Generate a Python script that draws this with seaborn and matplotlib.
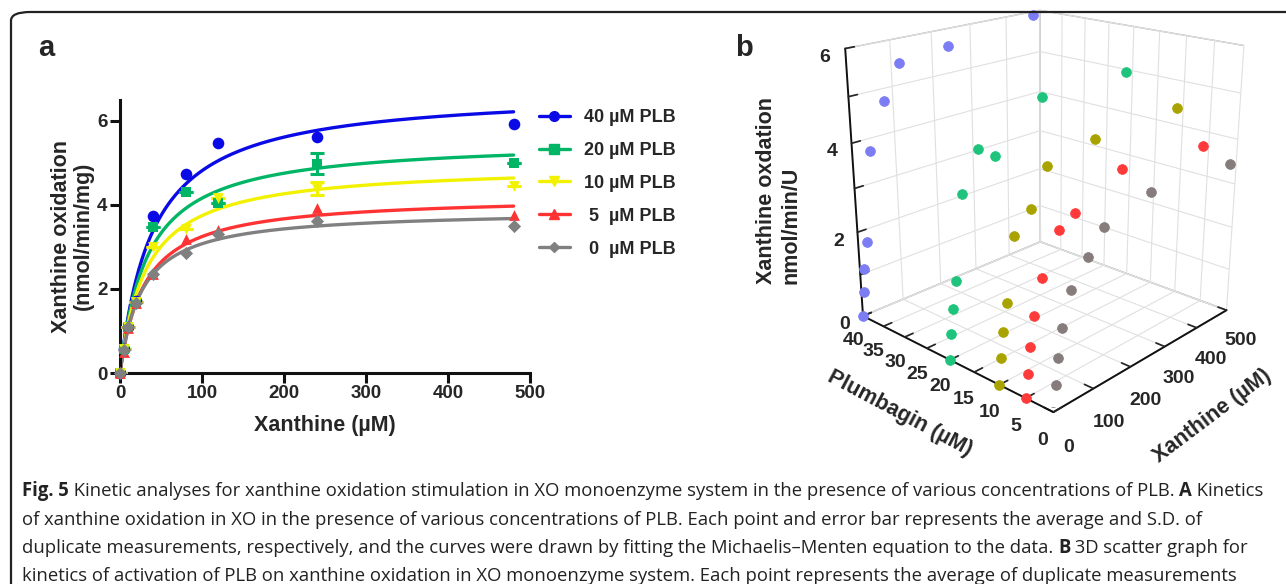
import numpy as np
import matplotlib
matplotlib.use("Agg")
import matplotlib.pyplot as plt
import seaborn as sns
import pandas as pd
from matplotlib.lines import Line2D
from matplotlib.patches import FancyBboxPatch

# ---------------- data ----------------
xanthine = [0, 5, 10, 20, 40, 80, 120, 240, 480]
plb_levels = [40, 20, 10, 5, 0]
v_plb40 = [0, 0.56, 1.10, 1.70, 3.73, 4.72, 5.46, 5.62, 5.92]
v_plb20 = [0, 0.56, 1.10, 1.68, 3.48, 4.30, 4.03, 4.97, 5.00]
v_plb10 = [0, 0.56, 1.10, 1.68, 3.00, 3.42, 4.15, 4.38, 4.45]
v_plb5 = [0, 0.50, 1.06, 1.66, 2.35, 3.18, 3.40, 3.92, 3.75]
v_plb0 = [0, 0.55, 1.09, 1.66, 2.35, 2.86, 3.31, 3.62, 3.50]
sd_plb20 = [0, 0, 0, 0, 0, 0, 0, 0.25, 0]
sd_plb10 = [0, 0, 0, 0, 0, 0, 0, 0.15, 0]
legend_labels = ["40 µM PLB", "20 µM PLB", "10 µM PLB", " 5  µM PLB", " 0  µM PLB"]
x_ticks = [0, 100, 200, 300, 400, 500]
y_ticks = [0, 2, 4, 6]
plb_ticks = [0, 5, 10, 15, 20, 25, 30, 35, 40]
z_ticks = [0, 1, 2, 3, 4, 5, 6]
z_ticklabels = ["0", "", "2", "", "4", "", "6"]

series = [v_plb40, v_plb20, v_plb10, v_plb5, v_plb0]
colors_a = ["#0a0ae6", "#00b566", "#f2f200", "#ff3333", "#808080"]
colors_b = ["#7c7cf4", "#1ec47c", "#a9a300", "#ff3a3a", "#867c7c"]
markers = ["o", "s", "v", "^", "D"]
msizes = [70, 60, 60, 60, 45]

caption_lines = [
    [("Fig. 5", "bold"), (" Kinetic analyses for xanthine oxidation stimulation in XO monoenzyme system in the presence of various concentrations of PLB. ", "normal"), ("A", "bold"), (" Kinetics", "normal")],
    [("of xanthine oxidation in XO in the presence of various concentrations of PLB. Each point and error bar represents the average and S.D. of", "normal")],
    [("duplicate measurements, respectively, and the curves were drawn by fitting the Michaelis–Menten equation to the data. ", "normal"), ("B", "bold"), (" 3D scatter graph for", "normal")],
    [("kinetics of activation of PLB on xanthine oxidation in XO monoenzyme system. Each point represents the average of duplicate measurements", "normal")],
]


def mm_fit(s, v):
    s = np.asarray(s, float)
    v = np.asarray(v, float)
    best = (np.inf, 1.0, 1.0)
    for km in np.linspace(1, 200, 4000):
        f = s / (km + s)
        vmax = (f @ v) / (f @ f)
        r = ((v - vmax * f) ** 2).sum()
        if r < best[0]:
            best = (r, vmax, km)
    return best[1], best[2]


# ---------------- figure ----------------
sns.set_theme(style="ticks")
plt.rcParams['font.family'] = ['Liberation Sans', 'DejaVu Sans']
W, H = 1286, 584
fig = plt.figure(figsize=(W / 100, H / 100), dpi=100)
fig.patch.set_facecolor("white")

# rounded frame
frame = FancyBboxPatch((11 / W, -0.2), 1.2, 1 - 12 / H + 0.2,
                       boxstyle="round,pad=0,rounding_size=0.015",
                       transform=fig.transFigure, fill=False,
                       edgecolor="#222222", linewidth=1.6)
fig.add_artist(frame)

# ---------------- panel a ----------------
ax = fig.add_axes([120 / W, 1 - 373 / H, 410 / W, (373 - 99.5) / H])
rows = []
for lvl, vals in zip(plb_levels, series):
    for s, v in zip(xanthine, vals):
        rows.append({"xan": s, "rate": v, "plb": f"{lvl}"})
df = pd.DataFrame(rows)
order = [f"{l}" for l in plb_levels]

curve_rows = []
s_grid = np.linspace(0, 480, 400)
for lvl, vals in zip(plb_levels, series):
    vmax, km = mm_fit(xanthine, vals)
    for s in s_grid:
        curve_rows.append({"xan": s, "rate": vmax * s / (km + s), "plb": f"{lvl}"})
cdf = pd.DataFrame(curve_rows)

pal_a = dict(zip(order, colors_a))
sns.lineplot(data=cdf, x="xan", y="rate", hue="plb", hue_order=order,
             palette=pal_a, linewidth=2.4, legend=False, ax=ax, clip_on=False)
for lvl, vals, m, ms, c in zip(order, series, markers, msizes, colors_a):
    sub = df[df.plb == lvl]
    sns.scatterplot(data=sub, x="xan", y="rate", color=c, marker=m, s=ms,
                    edgecolor=c, linewidth=0, legend=False, ax=ax, clip_on=False, zorder=5)
for vals, sd, c in [(v_plb20, sd_plb20, colors_a[1]), (v_plb10, sd_plb10, colors_a[2])]:
    ax.errorbar(xanthine, vals, yerr=sd, fmt="none", ecolor=c, elinewidth=2.2,
                capsize=5, capthick=2.2, zorder=4)

ax.set_xlim(0, 500)
ax.set_ylim(0, 6.5)
ax.set_xticks(x_ticks)
ax.set_yticks(y_ticks)
for sp in ["top", "right"]:
    ax.spines[sp].set_visible(False)
for sp in ["left", "bottom"]:
    ax.spines[sp].set_linewidth(2.2)
    ax.spines[sp].set_color("#111111")
ax.tick_params(width=2.2, length=7, labelsize=13.5, color="#111111", pad=2)
for t in ax.get_xticklabels() + ax.get_yticklabels():
    t.set_fontweight("bold")
ax.set_xlabel("Xanthine (µM)", fontsize=15.5, fontweight="bold", labelpad=9)
ax.set_ylabel("Xanthine oxidation\n(nmol/min/mg)", fontsize=15.5, fontweight="bold", labelpad=2,
              linespacing=1.1)

handles = [Line2D([0], [0], color=c, marker=m, markersize=7 if m != "D" else 5.5,
                  linewidth=2.4) for c, m in zip(colors_a, markers)]
fig.legend(handles, legend_labels, loc="upper left", bbox_to_anchor=(539 / W, 1 - 109 / H),
           frameon=False, prop={"weight": "bold", "size": 13}, handlelength=1.7,
           labelspacing=0.88, handletextpad=0.8, borderpad=0, borderaxespad=0)

fig.text(38 / W, 1 - 48 / H, "a", fontsize=21, fontweight="bold", va="center", ha="left")
fig.text(735 / W, 1 - 48 / H, "b", fontsize=21, fontweight="bold", va="center", ha="left")

# ---------------- panel b (3D) ----------------
ax3 = fig.add_axes([805 / W, 1 - 407 / H, 470 / W, 430 / H], projection="3d")
ax3.set_proj_type("persp", focal_length=0.45)
for lvl, vals, c in zip(plb_levels, series, colors_b):
    ax3.scatter(xanthine, [lvl] * len(xanthine), vals, color=c, s=50,
                edgecolors=c, linewidths=0.5, depthshade=False, alpha=1)
ax3.set_xlim(0, 500)
ax3.set_ylim(0, 40)
ax3.set_zlim(0, 6)
ax3.set_xticks(x_ticks)
ax3.set_yticks(plb_ticks)
ax3.set_zticks(z_ticks)
ax3.set_zticklabels(z_ticklabels)
ax3.view_init(elev=20, azim=-137)
ax3.set_box_aspect((1, 1, 1.05), zoom=1.07)
for axis in (ax3.xaxis, ax3.yaxis, ax3.zaxis):
    axis.pane.set_facecolor("white")
    axis.pane.set_edgecolor("#666666")
    axis.pane.set_linewidth(1.0)
    axis._axinfo["grid"].update(color="#e0e0e0", linewidth=0.8)
    axis._axinfo["tick"].update(inward_factor=0.0, outward_factor=0.5)
    axis.line.set_color("#111111")
    axis.line.set_linewidth(1.4)
ax3.tick_params(labelsize=14, pad=0)
ax3.tick_params(axis="x", pad=3)
for t in ax3.get_xticklabels() + ax3.get_yticklabels() + ax3.get_zticklabels():
    t.set_fontweight("bold")
ax3.set_xlabel("")
ax3.set_ylabel("")
ax3.set_zlabel("")
fig.text(900 / W, 1 - 413 / H, "Plumbagin (µM)", rotation=-28, rotation_mode="anchor",
         fontsize=15.5, fontweight="bold", ha="center", va="center")
fig.text(1212 / W, 1 - 416 / H, "Xanthine (µM)", rotation=37, rotation_mode="anchor",
         fontsize=15.5, fontweight="bold", ha="center", va="center")
fig.text(779 / W, 1 - 190 / H, "Xanthine oxdation\nnmol/min/U", rotation=90,
         fontsize=15.5, fontweight="bold", ha="center", va="center", linespacing=1.25,
         multialignment="left")

# ---------------- caption ----------------
renderer = fig.canvas.get_renderer()
cap_font = ["Open Sans", "DejaVu Sans"]
fs = 11.5
probe = fig.text(0, 0, "".join(s for s, _ in caption_lines[0]), fontsize=fs, family=cap_font)
wid = probe.get_window_extent(renderer).width
probe.remove()
fs = fs * 1243 / wid
line_y = [491, 520, 548, 576]
for segs, yy in zip(caption_lines, line_y):
    x = 22
    for s, wgt in segs:
        t = fig.text(x / W, 1 - yy / H, s, fontsize=fs, fontweight=wgt, family=cap_font,
                     va="center", ha="left", color="#222222")
        x += t.get_window_extent(renderer).width

fig.savefig("out.png", dpi=100)
